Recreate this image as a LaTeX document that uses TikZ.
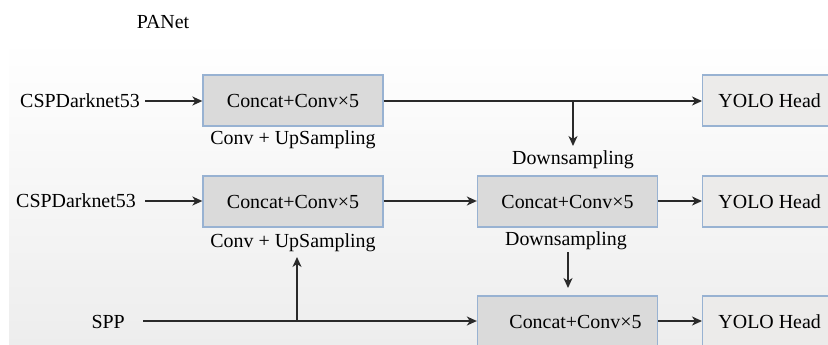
\documentclass[tikz,border=0pt]{standalone}
\usepackage{fontspec}
\setmainfont{Liberation Serif}
\usetikzlibrary{arrows.meta}
\definecolor{boxfill}{HTML}{DADADA}
\definecolor{headfill}{HTML}{ECEBEA}
\definecolor{boxline}{HTML}{98B2D2}
\definecolor{arr}{HTML}{2A2A2A}
\begin{document}
\begin{tikzpicture}[x=1bp,y=-1bp,
  every node/.style={font=\fontsize{20}{24}\selectfont, inner sep=0pt},
  cbox/.style={draw=boxline, line width=1.3bp, fill=boxfill, minimum width=180bp, minimum height=51bp},
  hbox/.style={draw=boxline, line width=1.3bp, fill=headfill, minimum width=150bp, minimum height=51bp},
  lab/.style={anchor=center},
  con/.style={draw=arr, line width=2.3bp},
  arw/.style={con, -{Stealth[length=10bp,width=9bp,inset=3bp]}}
]
\useasboundingbox (0,0) rectangle (828,344);
\begin{scope}
\clip (0,0) rectangle (828,344);
\shade[top color=white, bottom color=black!7] (9,40) rectangle (828,344);
\fill[white] (0,0) rectangle (828,40);

\node[lab] (panet) at (163,22) {PANet};

% row 1
\node[lab, anchor=east] (csp1) at (140,101) {CSPDarknet53};
\node[cbox] (b1) at (293,100.5) {Concat+Conv×5};
\node[hbox, anchor=west] (h1) at (702,100.5) {\hspace*{-16bp}YOLO Head};
\node[lab] (up1) at (293,140) {Conv + UpSampling};
\node[lab] (dn1) at (573,160) {Downsampling};

% row 2
\node[lab, anchor=east] (csp2) at (136,201) {CSPDarknet53};
\node[cbox] (b2) at (293,201.5) {Concat+Conv×5};
\node[cbox] (b3) at (567.5,201.5) {Concat+Conv×5};
\node[hbox, anchor=west] (h2) at (702,201.5) {\hspace*{-16bp}YOLO Head};
\node[lab] (up2) at (293,243) {Conv + UpSampling};
\node[lab] (dn2) at (566,241) {Downsampling};

% row 3
\node[lab, anchor=east] (spp) at (125,322) {SPP};
\node[cbox] (b4) at (567.5,321.5) {\hspace*{16bp}Concat+Conv×5};
\node[hbox, anchor=west] (h3) at (702,321.5) {\hspace*{-16bp}YOLO Head};

\coordinate (s1) at (145,101);
\coordinate (s2) at (145,201);
\coordinate (s3) at (143,321);
\coordinate (j1) at (573,101);
\coordinate (t1) at (573,146);
\coordinate (j3) at (297,321);
\coordinate (t3) at (297,257);
\coordinate (u2) at (568,252);
\coordinate (t2) at (568,288);

\draw[arw] (s1) -- (b1.west |- s1);
\draw[arw] (b1.east |- s1) -- (h1.west |- s1);
\draw[arw] (j1) -- (t1);

\draw[arw] (s2) -- (b2.west |- s2);
\draw[arw] (b2.east |- s2) -- (b3.west |- s2);
\draw[arw] (b3.east |- s2) -- (h2.west |- s2);
\draw[arw] (u2) -- (t2);

\draw[arw] (s3) -- (b4.west |- s3);
\draw[arw] (j3) -- (t3);
\draw[arw] (b4.east |- s3) -- (h3.west |- s3);
\end{scope}
\end{tikzpicture}
\end{document}
